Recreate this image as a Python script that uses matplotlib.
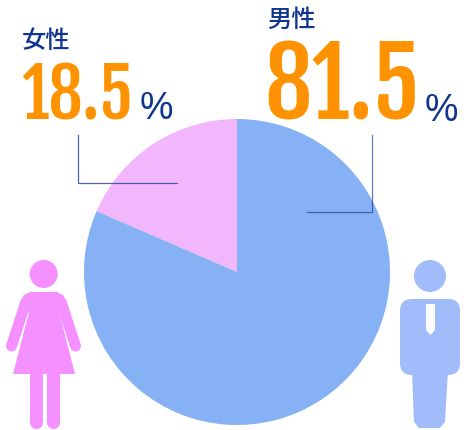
import matplotlib
matplotlib.use("Agg")
import matplotlib.pyplot as plt
from matplotlib.patches import Circle, Polygon, FancyBboxPatch

labels = ["女性", "男性"]
values = [18.5, 81.5]
value_labels = ["18.5", "81.5"]
pie_colors = ["#F2B6FC", "#86B1F4"]

NAVY = "#0F3590"
ORANGE = "#FF9200"
WOMAN = "#F490FF"
MAN = "#A0BCFB"

fig = plt.figure(figsize=(4.67, 4.30), dpi=100)
ax = fig.add_axes([0, 0, 1, 1])

# pie, y axis is flipped so it goes clockwise in data coords
ax.pie(values, colors=pie_colors, center=(237, 272), radius=153,
       startangle=-90, counterclock=False)
ax.set_xlim(0, 467)
ax.set_ylim(430, 0)
ax.set_aspect("auto")
ax.axis("off")

# leader lines
ax.plot([78, 78, 177], [135, 183, 183], color=NAVY, lw=0.9, alpha=0.75,
        solid_joinstyle="miter")
ax.plot([372, 372, 307], [135, 212, 212], color=NAVY, lw=0.9, alpha=0.65,
        solid_joinstyle="miter")

# texts
jp = ["Noto Sans CJK JP", "DejaVu Sans"]
ax.text(22, 48, labels[0], family=jp, weight="medium", fontsize=17.5, color=NAVY, va="baseline")
ax.text(267, 27, labels[1], family=jp, weight="medium", fontsize=17.5, color=NAVY, va="baseline")

num = ["Fjalla One", "Roboto Condensed", "Roboto"]
ax.text(21, 119, value_labels[0], family=num, fontsize=49, color=ORANGE, va="baseline")
ax.text(264, 120, value_labels[1], family=num, fontsize=68, color=ORANGE, va="baseline")
ax.text(140, 119, "%", family="Liberation Sans", fontsize=27, color=NAVY, va="baseline")
ax.text(425, 121, "%", family="Liberation Sans", fontsize=27, color=NAVY, va="baseline")

# woman icon
ax.add_patch(Circle((43.7, 274), 14, color=WOMAN, lw=0))
ax.add_patch(Polygon([(30, 292), (57, 292), (63, 295), (67, 302), (59, 312), (75, 374),
                      (13, 374), (29, 312), (20, 302), (24, 295)],
                     closed=True, color=WOMAN, lw=0))
ax.plot([25.5, 11.5], [303, 346], color=WOMAN, lw=7.9, solid_capstyle="round")
ax.plot([61.5, 75.5], [303, 346], color=WOMAN, lw=7.9, solid_capstyle="round")
ax.plot([35.5, 35.5], [372, 422], color=WOMAN, lw=9.4, solid_capstyle="round")
ax.plot([52.5, 52.5], [372, 422], color=WOMAN, lw=9.4, solid_capstyle="round")

# man icon
ax.add_patch(Circle((430, 276), 16, color=MAN, lw=0))
ax.add_patch(FancyBboxPatch((412, 311), 36, 52, boxstyle="round,pad=12,rounding_size=12",
                            color=MAN, lw=0))
ax.add_patch(Polygon([(412, 370), (448, 370), (445, 422), (440, 428), (419, 428), (414, 422)],
                     closed=True, color=MAN, lw=0))
ax.add_patch(Polygon([(426, 304), (435, 304), (435, 330), (430.5, 335), (426, 330)],
                     closed=True, color="white", lw=0, zorder=5))

fig.savefig("out.png", dpi=100)
